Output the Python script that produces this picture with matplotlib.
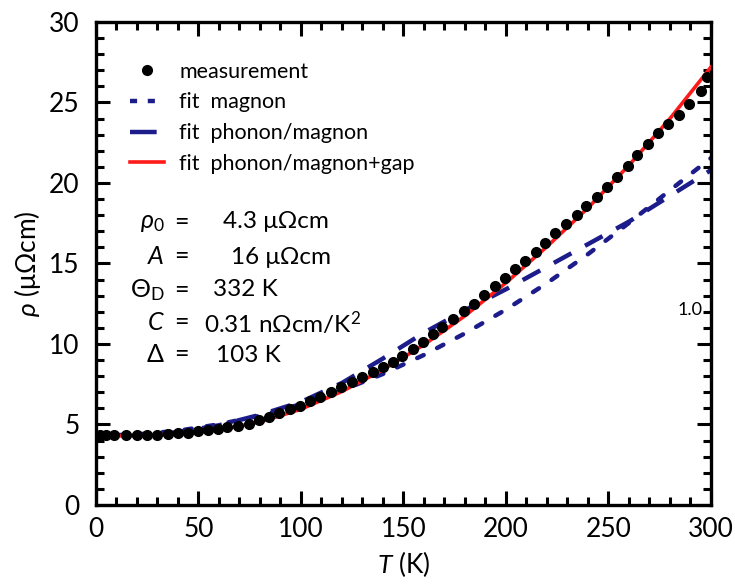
import matplotlib
matplotlib.use("Agg")
import matplotlib.pyplot as plt
from matplotlib.ticker import MultipleLocator
from matplotlib.lines import Line2D

plt.rcParams['font.family'] = ['Lato', 'DejaVu Sans']
plt.rcParams['mathtext.fontset'] = 'custom'
plt.rcParams['mathtext.rm'] = 'Lato'
plt.rcParams['mathtext.it'] = 'Lato:italic'
plt.rcParams['mathtext.bf'] = 'Lato:bold'

# measurement
T_meas = [2, 5, 9, 14.5, 20, 25, 30, 35, 40, 45, 50, 54.5, 59.5, 64, 69.5, 74.5,
          79.5, 84.5, 89.5, 94.5, 99.5, 104.5, 109.5, 114.5, 119.5, 125, 130, 135,
          140, 145, 149.5, 154.5, 159.5, 164.5, 169, 174, 179.5, 184.5, 189.5,
          194.5, 199.5, 204.5, 209.5, 214.5, 219, 224, 229.5, 234.5, 239, 244.5,
          249.5, 254, 259.5, 264, 269.5, 274, 279, 284.5, 289.5, 295, 298]
rho_meas = [4.33, 4.33, 4.33, 4.33, 4.33, 4.33, 4.35, 4.40, 4.45, 4.50, 4.58, 4.66,
            4.74, 4.83, 4.93, 5.06, 5.25, 5.46, 5.72, 5.95, 6.17, 6.45, 6.70, 7.02,
            7.33, 7.65, 7.92, 8.25, 8.55, 8.90, 9.28, 9.70, 10.15, 10.60, 11.08,
            11.55, 12.02, 12.50, 13.02, 13.58, 14.10, 14.65, 15.18, 15.72, 16.30,
            16.90, 17.48, 18.00, 18.55, 19.15, 19.78, 20.40, 21.05, 21.75, 22.42,
            23.10, 23.68, 24.20, 24.90, 25.70, 26.60]

# fits
T_fit = [0, 20, 40, 60, 80, 100, 120, 140, 160, 180, 200, 220, 240, 260, 280, 300]
rho_magnon = [4.30, 4.38, 4.61, 5.01, 5.55, 6.26, 7.12, 8.14, 9.32, 10.66, 12.14,
              13.78, 15.58, 17.52, 19.55, 21.55]
rho_phon_mag = [4.30, 4.32, 4.52, 4.95, 5.60, 6.40, 7.58, 9.10, 10.70, 12.10, 13.40,
                14.80, 16.20, 17.60, 19.20, 20.80]
rho_gap = [4.30, 4.31, 4.38, 4.65, 5.15, 5.95, 7.05, 8.40, 9.95, 11.75, 13.80,
           16.05, 18.45, 21.10, 24.00, 27.20]

params_sym = [r'$\rho_0$', r'$A$', r'$\Theta_\mathrm{D}$', r'$C$', r'$\Delta$']
params_val = ['4.3 μΩcm', '16 μΩcm', '332 K', r'0.31 nΩcm/K$^2$', '103 K']

navy = '#1c1c8a'
red = '#ff1a1a'

fig = plt.figure(figsize=(7.35, 5.85), dpi=100)
ax = fig.add_axes([0.1306, 0.1368, 0.8367, 0.8256])

ax.plot(T_fit, rho_magnon, color=navy, lw=3.2, ls=(0, (1.6, 3.4)),
        dash_capstyle='round', zorder=2)
ax.plot(T_fit, rho_phon_mag, color=navy, lw=3.2, ls=(0, (4.5, 3.5)), zorder=2)
ax.plot(T_fit, rho_gap, color=red, lw=2.6, zorder=3)
ax.plot(T_meas, rho_meas, 'o', color='black', ms=7, zorder=4)

ax.set_xlim(0, 300)
ax.set_ylim(0, 30)
ax.xaxis.set_major_locator(MultipleLocator(50))
ax.xaxis.set_minor_locator(MultipleLocator(10))
ax.yaxis.set_major_locator(MultipleLocator(5))
ax.yaxis.set_minor_locator(MultipleLocator(1))
ax.tick_params(which='both', direction='in', top=True, right=True, width=2.2,
               labelsize=19, color='black')
ax.tick_params(which='major', length=10)
ax.tick_params(which='minor', length=6)
ax.tick_params(axis='x', which='major', pad=9)
ax.tick_params(axis='y', which='major', pad=12)
for s in ax.spines.values():
    s.set_linewidth(2.4)

ax.set_xlabel(r'$T$ (K)', fontsize=19, labelpad=5)
ax.set_ylabel(r'$\rho$ (μΩcm)', fontsize=19, labelpad=4)

handles = [
    Line2D([], [], marker='o', color='black', ls='none', ms=7),
    Line2D([], [], color=navy, lw=3.2, ls=(0, (1.6, 2.4))),
    Line2D([], [], color=navy, lw=3.2, ls=(0, (6, 3))),
    Line2D([], [], color=red, lw=2.6),
]
labels = ['measurement', 'fit  magnon', 'fit  phonon/magnon', 'fit  phonon/magnon+gap']
ax.legend(handles, labels, loc='upper left', bbox_to_anchor=(0.055, 0.918),
          frameon=False, fontsize=15.5, handlelength=1.6, handletextpad=0.7,
          labelspacing=0.5, borderaxespad=0.0, borderpad=0.0)

ys = [222, 257, 290, 323, 355]
val_x = [223, 231, 213, 204, 216]
for sym, val, yp, vx in zip(params_sym, params_val, ys, val_x):
    yf = (585 - yp) / 585
    fig.text(165 / 735, yf, sym, ha='right', va='center', fontsize=18)
    fig.text(181 / 735, yf, '=', ha='center', va='center', fontsize=18)
    fig.text(vx / 735, yf, val, ha='left', va='center', fontsize=17.5)

fig.text(690 / 735, (585 - 310) / 585, '1.0', ha='center', va='center', fontsize=13)

fig.savefig('out.png', dpi=100)
